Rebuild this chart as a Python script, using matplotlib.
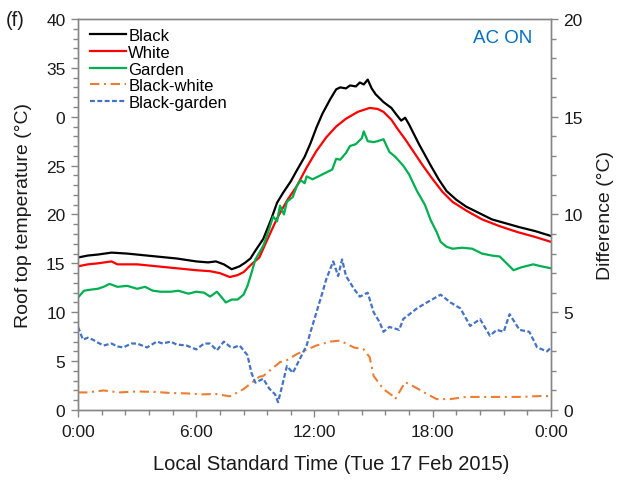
"""
Roof top temperatures over one day with the AC on, plus the differences
between the black roof and the white / garden roofs on a second axis.
"""

import matplotlib

matplotlib.use("Agg")
import matplotlib.pyplot as plt
from matplotlib.ticker import FixedLocator, FixedFormatter, MultipleLocator
import numpy as np

plt.rcParams["font.family"] = ["Liberation Sans", "DejaVu Sans"]

# Roof top temperatures (degC) against local standard time (hours)
black_hours = [0, 0.5, 1, 1.7, 2.5, 3, 4, 5, 6, 6.6, 7, 7.4, 7.8, 8.2, 8.5, 8.75, 9.0,
               9.4, 9.8, 10.1, 10.4, 10.8, 11.1, 11.5, 11.8, 12.1, 12.4, 12.8, 13.1,
               13.3, 13.6, 13.8, 14.1, 14.3, 14.5, 14.7, 14.9, 15.1, 15.5, 15.9, 16.2,
               16.4, 16.6, 16.8, 17.3, 17.9, 18.3, 18.7, 19.2, 19.7, 20.4, 21.0, 21.7,
               22.4, 23.2, 24.0]
black_temp = [15.6, 15.8, 15.9, 16.1, 16.0, 15.9, 15.7, 15.5, 15.2, 15.1, 15.2, 14.9,
              14.4, 14.7, 15.1, 15.5, 16.3, 17.5, 19.5, 21.2, 22.2, 23.4, 24.5, 25.9,
              27.3, 28.9, 30.3, 31.8, 32.8, 33.0, 32.9, 33.2, 33.1, 33.5, 33.3, 33.8,
              32.9, 32.3, 31.5, 30.9, 30.1, 29.6, 29.9, 29.2, 27.2, 25.0, 23.6, 22.4,
              21.5, 20.8, 20.1, 19.5, 19.1, 18.7, 18.3, 17.8]

white_hours = [0, 0.5, 1, 1.7, 2, 3, 4, 5, 6, 6.7, 7.2, 7.7, 8.1, 8.4, 8.8, 9.2, 9.6,
               10.1, 10.6, 11.1, 11.6, 12.1, 12.6, 13.1, 13.6, 14.2, 14.8, 15.2, 15.5,
               15.9, 16.2, 16.6, 17.0, 17.5, 18.0, 18.5, 19.0, 19.7, 20.5, 21.4, 22.3,
               23.2, 24.0]
white_temp = [14.7, 14.9, 15.0, 15.2, 14.9, 14.9, 14.7, 14.5, 14.3, 14.2, 14.0, 13.6,
              13.8, 14.1, 14.9, 15.6, 17.4, 19.6, 21.4, 22.9, 24.8, 26.5, 27.9, 29.0,
              29.8, 30.5, 30.9, 30.8, 30.5, 29.7, 28.8, 27.7, 26.5, 25.0, 23.6, 22.3,
              21.3, 20.4, 19.5, 18.8, 18.2, 17.7, 17.2]

garden_hours = [0, 0.3, 0.6, 1.0, 1.3, 1.6, 2.0, 2.5, 3.0, 3.4, 3.8, 4.2, 4.7, 5.1, 5.6,
                6.0, 6.4, 6.7, 7.05, 7.3, 7.5, 7.8, 8.1, 8.4, 8.6, 8.8, 9.0, 9.4, 9.7,
                9.9, 10.1, 10.25, 10.45, 10.6, 10.9, 11.1, 11.3, 11.5, 11.6, 11.9, 12.2,
                12.6, 12.9, 13.1, 13.3, 13.6, 13.8, 14.1, 14.4, 14.5, 14.7, 15.0, 15.2,
                15.5, 15.8, 16.1, 16.5, 16.8, 17.2, 17.6, 17.9, 18.2, 18.4, 18.7, 19.0,
                19.5, 20.0, 20.5, 21.0, 21.4, 21.8, 22.1, 22.5, 23.1, 23.5, 24.0]
garden_temp = [11.5, 12.2, 12.3, 12.4, 12.6, 12.9, 12.6, 12.7, 12.4, 12.6, 12.2, 12.1,
               12.1, 12.2, 11.9, 12.1, 12.0, 11.6, 12.1, 11.5, 11.0, 11.3, 11.3, 11.8,
               12.7, 14.0, 15.4, 16.8, 18.5, 19.8, 19.3, 20.9, 20.0, 21.3, 21.8, 22.9,
               23.5, 23.2, 23.9, 23.6, 23.9, 24.3, 24.6, 25.7, 25.6, 26.3, 27.0, 27.2,
               27.8, 28.5, 27.5, 27.4, 27.5, 27.7, 26.4, 25.9, 25.0, 24.1, 22.4, 21.0,
               19.4, 18.2, 17.2, 16.7, 16.5, 16.6, 16.5, 16.0, 15.8, 15.7, 14.9, 14.3,
               14.6, 14.9, 14.7, 14.5]

# Temperature differences (degC) on the right axis
bw_hours = [0, 0.45, 1.3, 2.1, 3.0, 4.0, 4.7, 5.5, 6.3, 7.0, 7.7, 8.0, 8.4, 9.2, 9.4,
            10.25, 10.6, 11.1, 12.1, 12.8, 13.3, 14.0, 14.5, 14.8, 15.0, 15.5, 16.0,
            16.1, 16.6, 17.1, 17.7, 18.2, 18.9, 19.7, 20.5, 21.4, 22.4, 23.6, 24.0]
bw_diff = [0.9, 0.9, 1.0, 0.9, 0.95, 0.92, 0.87, 0.85, 0.8, 0.82, 0.7, 0.85, 1.07,
           1.7, 1.74, 2.45, 2.55, 2.86, 3.3, 3.5, 3.55, 3.2, 3.1, 2.7, 1.74, 1.07, 0.7,
           0.56, 1.43, 1.17, 0.82, 0.56, 0.56, 0.67, 0.67, 0.67, 0.67, 0.72, 0.7]

bg_hours = [0, 0.25, 0.5, 0.75, 1.0, 1.3, 1.7, 2.0, 2.3, 2.7, 3.0, 3.5, 4.0, 4.3, 4.7,
            5.0, 5.5, 6.0, 6.4, 6.7, 7.05, 7.4, 7.7, 7.9, 8.2, 8.6, 8.8, 9.0, 9.4, 9.7,
            10.0, 10.15, 10.35, 10.6, 10.9, 11.25, 11.6, 11.8, 12.1, 12.4, 12.6, 12.95,
            13.2, 13.4, 13.6, 14.0, 14.3, 14.7, 15.0, 15.3, 15.5, 15.8, 16.3, 16.5,
            17.2, 17.7, 18.4, 18.9, 19.4, 19.9, 20.4, 20.9, 21.25, 21.6, 21.9, 22.4,
            22.9, 23.3, 23.8, 24.0]
bg_diff = [4.25, 3.6, 3.7, 3.6, 3.45, 3.3, 3.4, 3.25, 3.2, 3.4, 3.4, 3.2, 3.5, 3.4, 3.5,
           3.35, 3.3, 3.1, 3.4, 3.4, 3.05, 3.5, 3.25, 3.2, 3.3, 2.8, 1.9, 1.4, 1.6, 1.1,
           0.8, 0.4, 1.2, 2.25, 1.9, 2.6, 3.3, 4.0, 5.0, 6.0, 6.7, 7.6, 6.85, 7.7, 6.85,
           6.2, 5.8, 6.0, 5.0, 4.5, 4.0, 4.25, 4.1, 4.65, 5.2, 5.5, 5.9, 5.5, 5.2, 4.3,
           4.65, 3.8, 4.1, 4.0, 4.9, 4.1, 4.0, 3.2, 3.0, 3.2]

hour_ticks = [0, 6, 12, 18, 24]
hour_labels = ["0:00", "6:00", "12:00", "18:00", "0:00"]
temp_ticks = [0, 5, 10, 15, 20, 25, 30, 35, 40]
temp_labels = ["0", "5", "10", "15", "20", "25", "0", "35", "40"]

axis_grey = "#868686"
text_col = "#1a1a1a"

fig = plt.figure(figsize=(6.24, 4.81), dpi=100)
ax = fig.add_axes([0.125, 0.1455, 0.758, 0.813])
ax2 = ax.twinx()

l1, = ax.plot(black_hours, black_temp, color="black", lw=1.6, label="Black")
l2, = ax.plot(white_hours, white_temp, color="#FF0000", lw=1.6, label="White")
l3, = ax.plot(garden_hours, garden_temp, color="#00B050", lw=1.6, label="Garden")
l4, = ax2.plot(bw_hours, bw_diff, color="#ED7D31", lw=1.5, dashes=(4.5, 2.2, 1, 2.2),
               label="Black-white")
l5, = ax2.plot(bg_hours, bg_diff, color="#4472C4", lw=1.6, dashes=(2.2, 1.1),
               label="Black-garden")

ax.set_xlim(0, 24)
ax.set_ylim(0, 40)
ax2.set_ylim(0, 20)

ax.xaxis.set_major_locator(FixedLocator(hour_ticks))
ax.xaxis.set_major_formatter(FixedFormatter(hour_labels))
ax.xaxis.set_minor_locator(MultipleLocator(1.2))
ax.yaxis.set_major_locator(FixedLocator(temp_ticks))
ax.yaxis.set_major_formatter(FixedFormatter(temp_labels))
ax.yaxis.set_minor_locator(MultipleLocator(1))
ax2.yaxis.set_major_locator(MultipleLocator(5))
ax2.yaxis.set_minor_locator(MultipleLocator(1))

for a in (ax, ax2):
    for s in a.spines.values():
        s.set_color(axis_grey)
        s.set_linewidth(1.0)
    a.tick_params(which="major", length=5, width=1, color=axis_grey,
                  labelsize=12.5, labelcolor=text_col, direction="out")
    a.tick_params(which="minor", length=3.5, width=1, color=axis_grey, direction="out")
ax.tick_params(axis="x", pad=5)
ax.tick_params(axis="y", pad=4)
ax2.tick_params(axis="y", pad=4)

ax.set_xlabel("Local Standard Time (Tue 17 Feb 2015)", fontsize=14.5, color=text_col)
ax.xaxis.set_label_coords(0.535, -0.113)
ax.set_ylabel("Roof top temperature (\u00b0C)", fontsize=14, color=text_col, labelpad=10)
ax2.set_ylabel("Difference (\u00b0C)", fontsize=14, color=text_col, labelpad=10)

ax.text(0.96, 0.975, "AC ON", transform=ax.transAxes, ha="right", va="top",
        fontsize=13.5, color="#0070C0")
fig.text(0.01, 0.958, "(f)", ha="left", va="center", fontsize=14.5, color=text_col)

ax2.legend(handles=[l1, l2, l3, l4, l5], loc="upper left",
           bbox_to_anchor=(0.0, 1.006), frameon=False, fontsize=12,
           handlelength=2.2, handletextpad=0.12, labelspacing=0.1,
           borderaxespad=0.3)

fig.savefig("out.png", dpi=100)
